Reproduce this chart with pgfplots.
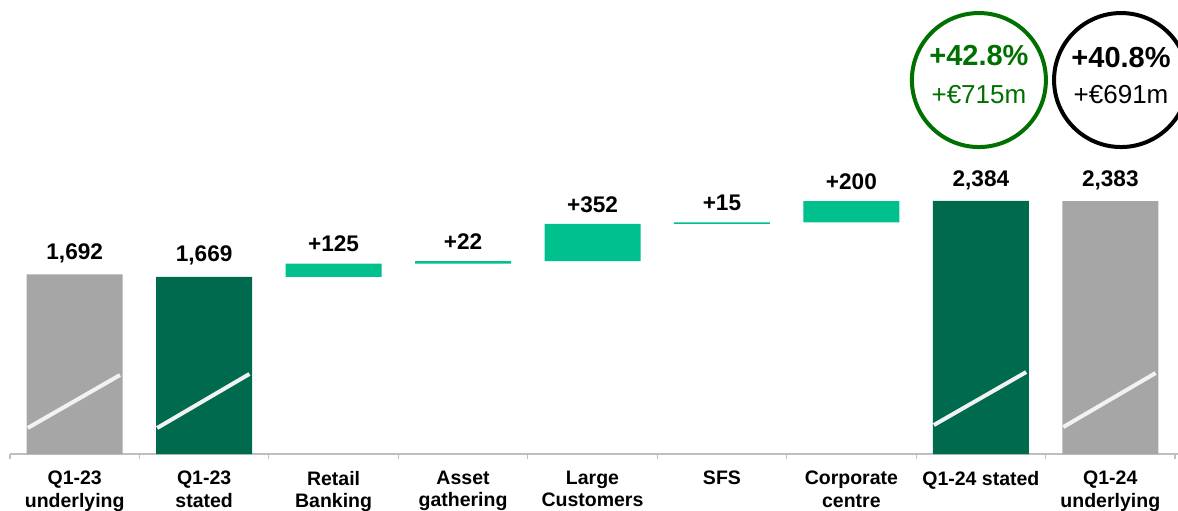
\documentclass[border=0pt]{standalone}
\usepackage{fontspec}
\setmainfont{Liberation Sans}
\usepackage{pgfplots}
\pgfplotsset{compat=1.18}
\definecolor{bargray}{RGB}{166,166,166}
\definecolor{darkgrn}{RGB}{0,106,78}
\definecolor{teal2}{RGB}{0,192,142}
\definecolor{circgrn}{RGB}{0,112,0}
\definecolor{axgray}{RGB}{191,191,191}

\begin{document}
\begin{tikzpicture}
\begin{axis}[
  scale only axis,
  width=589pt, height=227pt,
  xmin=-0.577, xmax=8.523,
  ymin=0, ymax=4277,
  ybar stacked,
  bar width=48pt,
  axis line style={draw=none},
  ytick=\empty,
  xtick={0,...,8},
  xticklabels={{Q1-23\\underlying},{Q1-23\\stated},{Retail\\Banking},{Asset\\gathering},{Large\\Customers},SFS,{Corporate\\centre},Q1-24 stated,{Q1-24\\underlying}},
  x tick label style={align=center, font=\bfseries\fontsize{9.75pt}{11.2pt}\selectfont, yshift=-5pt, anchor=north},
  major tick length=0pt,
  xtick pos=bottom,
  clip=false,
]
% invisible base
\addplot[draw=none, fill=none] coordinates {
  (0,0) (1,0) (2,1669) (3,1794) (4,1816) (5,2168) (6,2183) (7,0) (8,0)
};
% gray totals
\addplot[draw=none, fill=bargray] coordinates {
  (0,1692) (1,0) (2,0) (3,0) (4,0) (5,0) (6,0) (7,0) (8,2383)
};
% dark green totals
\addplot[draw=none, fill=darkgrn] coordinates {
  (0,0) (1,1669) (2,0) (3,0) (4,0) (5,0) (6,0) (7,2384) (8,0)
};
% deltas
\addplot[draw=none, fill=teal2] coordinates {
  (0,0) (1,0) (2,125) (3,22) (4,352) (5,15) (6,200) (7,0) (8,0)
};

% axis line and boundary ticks
\draw[axgray, line width=0.75pt] (axis cs:-0.5,0) -- (axis cs:8.523,0);
\pgfplotsinvokeforeach{-0.5,0.5,1.5,2.5,3.5,4.5,5.5,6.5,7.5,8.5}{
  \draw[axgray, line width=0.6pt] (axis cs:#1,0) -- ++(0pt,-2.6pt);
}

% anchor points for the break markers (drawn after the axis)
\coordinate (m0a) at (axis cs:-0.363,245); \coordinate (m0b) at (axis cs:0.35,744);
\coordinate (m1a) at (axis cs:0.637,245);  \coordinate (m1b) at (axis cs:1.35,754);
\coordinate (m7a) at (axis cs:6.637,273);  \coordinate (m7b) at (axis cs:7.35,772);
\coordinate (m8a) at (axis cs:7.637,254);  \coordinate (m8b) at (axis cs:8.35,763);

% value labels
\tikzset{vlab/.style={anchor=south, font=\bfseries\fontsize{11.3pt}{13pt}\selectfont, inner sep=0pt, yshift=5.5pt}}
\node[vlab] at (axis cs:0,1692) {1,692};
\node[vlab] at (axis cs:1,1669) {1,669};
\node[vlab] at (axis cs:2,1794) {+125};
\node[vlab] at (axis cs:3,1816) {+22};
\node[vlab] at (axis cs:4,2168) {+352};
\node[vlab] at (axis cs:5,2183) {+15};
\node[vlab] at (axis cs:6,2383) {+200};
\node[vlab] at (axis cs:7,2384) {2,384};
\node[vlab] at (axis cs:8,2383) {2,383};

% growth circles
\draw[circgrn, line width=2pt] (axis cs:6.985,3523) circle[radius=33.5pt];
\node[circgrn, font=\bfseries\fontsize{14.5pt}{16pt}\selectfont] at ([yshift=12.5pt]axis cs:6.985,3523) {+42.8\%};
\node[circgrn, font=\fontsize{13pt}{15pt}\selectfont] at ([yshift=-7.5pt]axis cs:6.985,3523) {+€715m};
\draw[black, line width=2pt] (axis cs:8.083,3523) circle[radius=33.5pt];
\node[black, font=\bfseries\fontsize{14.5pt}{16pt}\selectfont] at ([yshift=11.5pt]axis cs:8.083,3523) {+40.8\%};
\node[black, font=\fontsize{13pt}{15pt}\selectfont] at ([yshift=-7.5pt]axis cs:8.083,3523) {+€691m};
\end{axis}
\draw[white!95!black, line width=2pt] (m0a) -- (m0b);
\draw[white!95!black, line width=2pt] (m1a) -- (m1b);
\draw[white!95!black, line width=2pt] (m7a) -- (m7b);
\draw[white!95!black, line width=2pt] (m8a) -- (m8b);
\pgfresetboundingbox
\path[use as bounding box] ([yshift=-28pt]current axis.south west) rectangle (current axis.north east);
\end{tikzpicture}
\end{document}
